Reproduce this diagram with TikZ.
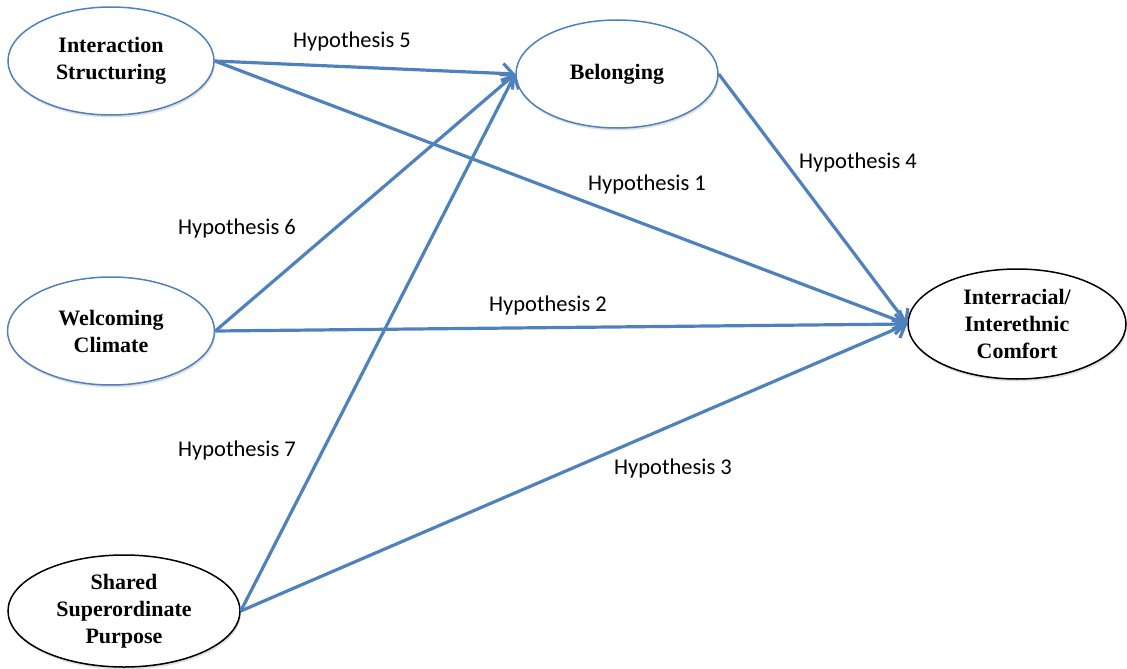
\documentclass[tikz,border=0pt]{standalone}
\usepackage{fontspec}
\setmainfont{Liberation Serif}
\newfontfamily\hypfont{Carlito}
\usepackage{tikz}
\usetikzlibrary{arrows.meta,shadows,shapes.geometric}
\definecolor{linkblue}{RGB}{79,129,189}

\begin{document}
\begin{tikzpicture}[x=1pt,y=-1pt,
  factor/.style={ellipse,draw=linkblue,line width=1.5pt,fill=white,inner sep=0pt,
    align=center,font=\fontsize{22}{27}\selectfont\bfseries,
    drop shadow={opacity=0.25,shadow xshift=1pt,shadow yshift=-2.5pt}},
  outcome/.style={factor,draw=black},
  hyp/.style={font=\hypfont\fontsize{22.5}{27}\selectfont,inner sep=0pt},
  link/.style={draw=linkblue,line width=3.2pt,-{Straight Barb[length=10pt,width=20pt]}}]
\useasboundingbox (0,0) rectangle (1127,669);
\node[factor,minimum width=206,minimum height=108] (inter) at (111,61) {Interaction\\Structuring};
\node[factor,minimum width=202,minimum height=108] (bel) at (617,74) {Belonging};
\node[factor,minimum width=207,minimum height=108] (welc) at (111,331) {Welcoming\\Climate};
\node[outcome,minimum width=218,minimum height=110] (comf) at (1017,324) {Interracial/\\Interethnic\\Comfort};
\node[outcome,minimum width=232,minimum height=112] (shared) at (124,611) {Shared\\Superordinate\\Purpose};
% paths
\draw[link] (inter.east) -- (bel.west);
\draw[link] (inter.east) -- (comf.west);
\draw[link] (welc.east) -- (bel.west);
\draw[link] (welc.east) -- (comf.west);
\draw[link] (shared.east) -- (bel.west);
\draw[link] (shared.east) -- (comf.west);
\draw[link] (bel.east) -- (comf.west);
% labels
\node[hyp] (h5) at (352,42) {Hypothesis 5};
\node[hyp] (h1) at (647,185) {Hypothesis 1};
\node[hyp] (h4) at (858,163) {Hypothesis 4};
\node[hyp] (h6) at (237,228) {Hypothesis 6};
\node[hyp] (h2) at (548,305) {Hypothesis 2};
\node[hyp] (h7) at (237,450) {Hypothesis 7};
\node[hyp] (h3) at (673,468) {Hypothesis 3};
\end{tikzpicture}
\end{document}
